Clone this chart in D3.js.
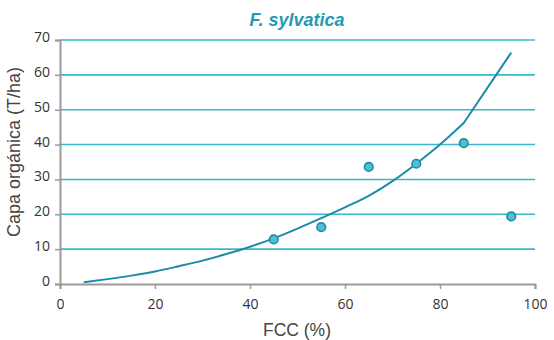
<!DOCTYPE html>
<html>
<head>
<meta charset="utf-8">
<script src="https://cdn.jsdelivr.net/npm/d3@7"></script>
<style>
  html, body { margin: 0; padding: 0; background: #ffffff; }
  svg { display: block; }
</style>
</head>
<body>
<div id="chart"></div>
<script>
// Observed organic layer vs. crown cover for Fagus sylvatica
const obsFCC = [45, 55, 65, 75, 85, 95];
const obsCapa = [12.8, 16.3, 33.6, 34.5, 40.4, 19.4];

// Fitted trend: smooth part, then the final straight segment
const fitFCC = [5, 10, 15, 20, 25, 30, 35, 40, 45, 50, 55, 60, 65, 70, 75, 80, 85];
const fitCapa = [0.5, 1.4, 2.4, 3.6, 5.1, 6.7, 8.6, 10.7, 13.1, 15.9, 18.9, 22.0, 25.3, 29.5, 34.5, 40.0, 46.2];
const tailFCC = [85, 95];
const tailCapa = [46.2, 66.4];

const xTicks = [0, 20, 40, 60, 80, 100];
const yTicks = [0, 10, 20, 30, 40, 50, 60, 70];

const W = 554, H = 340;
const margin = { left: 60, right: 19, top: 40, bottom: 56 };

const svg = d3.select("#chart").append("svg")
  .attr("width", W).attr("height", H);

const x = d3.scaleLinear().domain([0, 100]).range([margin.left, W - margin.right]);
const y = d3.scaleLinear().domain([0, 70]).range([H - margin.bottom, margin.top]);

const teal = "#1c8ca6";
const grid = "#3bb7c9";
const axisGray = "#9a9a9a";
const tickFont = "'Open Sans', sans-serif";
const labelFont = "'Liberation Sans', Arial, sans-serif";

// Horizontal gridlines
svg.append("g").selectAll("line")
  .data(yTicks.filter(d => d > 0))
  .join("line")
  .attr("x1", x(0)).attr("x2", x(100))
  .attr("y1", d => y(d)).attr("y2", d => y(d))
  .attr("stroke", grid).attr("stroke-width", 1.6);

// Y axis
const yAxis = svg.append("g")
  .attr("transform", `translate(${x(0)},0)`)
  .call(d3.axisLeft(y).tickValues(yTicks).tickSize(5).tickPadding(5));
yAxis.select(".domain").attr("stroke", axisGray).attr("stroke-width", 2);
yAxis.selectAll(".tick line").attr("stroke", axisGray).attr("stroke-width", 1.5);
yAxis.selectAll(".tick text")
  .attr("font-family", tickFont).attr("font-size", 14).attr("fill", "#333")
  .attr("y", -3);

// X axis
const xAxis = svg.append("g")
  .attr("transform", `translate(0,${y(0)})`)
  .call(d3.axisBottom(x).tickValues(xTicks).tickSize(5).tickPadding(10));
xAxis.select(".domain").attr("stroke", axisGray).attr("stroke-width", 2);
xAxis.selectAll(".tick line").attr("stroke", axisGray).attr("stroke-width", 1.5);
xAxis.selectAll(".tick text")
  .attr("font-family", tickFont).attr("font-size", 14).attr("fill", "#333");

// Trend line
const smooth = d3.line()
  .x((d, i) => x(fitFCC[i]))
  .y(d => y(d))
  .curve(d3.curveMonotoneX);
const straight = d3.line()
  .x((d, i) => x(tailFCC[i]))
  .y(d => y(d));
svg.append("path")
  .attr("d", smooth(fitCapa) + straight(tailCapa).replace(/^M/, "L"))
  .attr("fill", "none")
  .attr("stroke", teal)
  .attr("stroke-width", 2)
  .attr("stroke-linejoin", "round");

// Observations
svg.append("g").selectAll("circle")
  .data(obsCapa)
  .join("circle")
  .attr("cx", (d, i) => x(obsFCC[i]))
  .attr("cy", d => y(d))
  .attr("r", 4.3)
  .attr("fill", "#4dc0d2")
  .attr("stroke", teal)
  .attr("stroke-width", 1.6);

// Title
svg.append("text")
  .attr("x", 297).attr("y", 25.5)
  .attr("text-anchor", "middle")
  .attr("font-family", labelFont)
  .attr("font-size", 18).attr("font-weight", "bold").attr("font-style", "italic")
  .attr("fill", "#2399b3")
  .text("F. sylvatica");

// Axis titles
svg.append("text")
  .attr("x", 297).attr("y", 336)
  .attr("text-anchor", "middle")
  .attr("font-family", labelFont)
  .attr("font-size", 17.5).attr("fill", "#444")
  .text("FCC (%)");

svg.append("text")
  .attr("transform", "translate(20,152) rotate(-90)")
  .attr("text-anchor", "middle")
  .attr("font-family", labelFont)
  .attr("font-size", 18).attr("fill", "#444")
  .text("Capa orgánica (T/ha)");
</script>
</body>
</html>
